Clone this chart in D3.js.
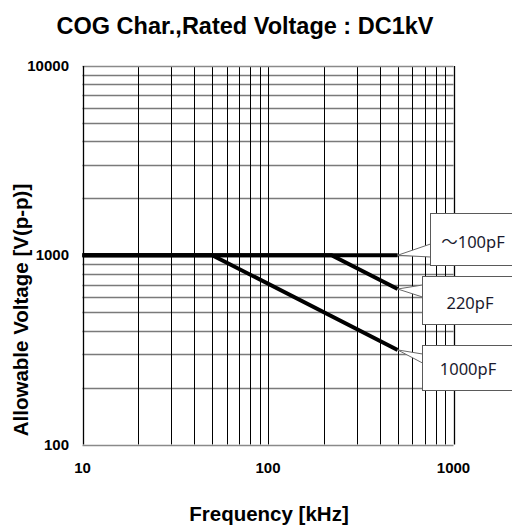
<!DOCTYPE html>
<html>
<head>
<meta charset="utf-8">
<script src="https://cdn.jsdelivr.net/npm/d3@7"></script>
<style>
  body { margin: 0; background: #fff; }
  svg { display: block; }
</style>
</head>
<body>
<svg id="chart" width="512" height="526"></svg>
<script>
// data
const seriesNames = ["～100pF", "220pF", "1000pF"];
const seriesFreq = [[10, 500], [10, 220, 500], [10, 50, 500]];
const seriesVolt = [[1000, 1000], [1000, 1000, 663], [1000, 1000, 316]];
const xTicks = [10, 100, 1000];
const yTicks = [100, 1000, 10000];

var svg = d3.select("#chart");

var x = d3.scaleLog().domain([10, 1000]).range([82.5, 453.5]);
var y = d3.scaleLog().domain([100, 10000]).range([444.5, 66]);

var boldFont = "Liberation Sans, Arial, sans-serif";

// title
svg.append("text")
  .attr("x", 245).attr("y", 34)
  .attr("text-anchor", "middle")
  .attr("font-family", boldFont)
  .attr("font-weight", "bold").attr("font-size", 23.5)
  .text("COG Char.,Rated Voltage : DC1kV");

// grid: minor ticks of the log scales
var xGrid = x.ticks().filter(d => d > 10 && d < 1000);
var yGrid = y.ticks().filter(d => d > 100 && d < 10000);

var g = svg.append("g");
g.selectAll(".hg").data(yGrid).enter().append("line")
  .attr("x1", x(10)).attr("x2", x(1000))
  .attr("y1", d => Math.round(y(d)) + 0.5).attr("y2", d => Math.round(y(d)) + 0.5)
  .attr("stroke", "#7a7a7a").attr("stroke-width", 1.3);
g.selectAll(".vg").data(xGrid).enter().append("line")
  .attr("x1", d => Math.round(x(d)) + 0.5).attr("x2", d => Math.round(x(d)) + 0.5)
  .attr("y1", y(10000)).attr("y2", y(100))
  .attr("stroke", "#000").attr("stroke-width", 1);

// frame
[10000, 100].forEach(function (v) {
  svg.append("line")
    .attr("x1", x(10)).attr("x2", x(1000))
    .attr("y1", Math.round(y(v)) + 0.5).attr("y2", Math.round(y(v)) + 0.5)
    .attr("stroke", "#8a8a8a").attr("stroke-width", 1.5);
});
[10, 1000].forEach(function (v) {
  svg.append("line")
    .attr("x1", Math.round(x(v)) + 0.5).attr("x2", Math.round(x(v)) + 0.5)
    .attr("y1", y(10000)).attr("y2", y(100))
    .attr("stroke", "#000").attr("stroke-width", 1.3);
});

// tick labels
svg.selectAll(".yl").data(yTicks).enter().append("text")
  .attr("x", 69).attr("y", d => y(d) + 5)
  .attr("text-anchor", "end")
  .attr("font-family", boldFont)
  .attr("font-weight", "bold").attr("font-size", 15)
  .text(d => d);
svg.selectAll(".xl").data(xTicks).enter().append("text")
  .attr("x", d => x(d)).attr("y", 473)
  .attr("text-anchor", "middle")
  .attr("font-family", boldFont)
  .attr("font-weight", "bold").attr("font-size", 15)
  .text(d => d);

// axis titles
svg.append("text")
  .attr("x", 269).attr("y", 521)
  .attr("text-anchor", "middle")
  .attr("font-family", boldFont)
  .attr("font-weight", "bold").attr("font-size", 20.5)
  .text("Frequency [kHz]");
svg.append("text")
  .attr("transform", "translate(28,310) rotate(-90)")
  .attr("text-anchor", "middle")
  .attr("font-family", boldFont)
  .attr("font-weight", "bold").attr("font-size", 20.5)
  .text("Allowable Voltage [V(p-p)]");

// series lines
var line = d3.line().x(d => x(d[0])).y(d => y(d[1]));
seriesNames.forEach(function (name, i) {
  var pts = seriesFreq[i].map((f, j) => [f, seriesVolt[i][j]]);
  svg.append("path")
    .datum(pts)
    .attr("d", line)
    .attr("fill", "none")
    .attr("stroke", "#000")
    .attr("stroke-width", 4);
});

// callouts
var boxes = [
  { x: 430.5, y: 213.5, h: 52, a1: 244, a2: 257, tx: 473, ty: 241 },
  { x: 422.5, y: 276.5, h: 48, a1: 285, a2: 297, tx: 470, ty: 302 },
  { x: 422.5, y: 345.5, h: 45, a1: 354, a2: 363, tx: 468, ty: 368 }
];
seriesNames.forEach(function (name, i) {
  var b = boxes[i];
  var n = seriesFreq[i].length;
  var ex = x(seriesFreq[i][n - 1]), ey = y(seriesVolt[i][n - 1]);
  svg.append("path")
    .attr("d", "M" + b.x + "," + b.a1 + "L" + ex + "," + ey + "L" + b.x + "," + b.a2)
    .attr("fill", "#fff")
    .attr("stroke", "#6a6a6a").attr("stroke-width", 1);
  svg.append("rect")
    .attr("x", b.x).attr("y", b.y)
    .attr("width", 120).attr("height", b.h)
    .attr("fill", "#fff")
    .attr("stroke", "#5a5a5a").attr("stroke-width", 1);
  svg.append("text")
    .attr("x", b.tx).attr("y", b.ty)
    .attr("text-anchor", "middle")
    .attr("dominant-baseline", "central")
    .attr("font-family", "Noto Sans, Noto Sans CJK JP, sans-serif")
    .attr("font-size", 16.5)
    .attr("fill", "#1a1a2e")
    .text(name);
});
</script>
</body>
</html>
